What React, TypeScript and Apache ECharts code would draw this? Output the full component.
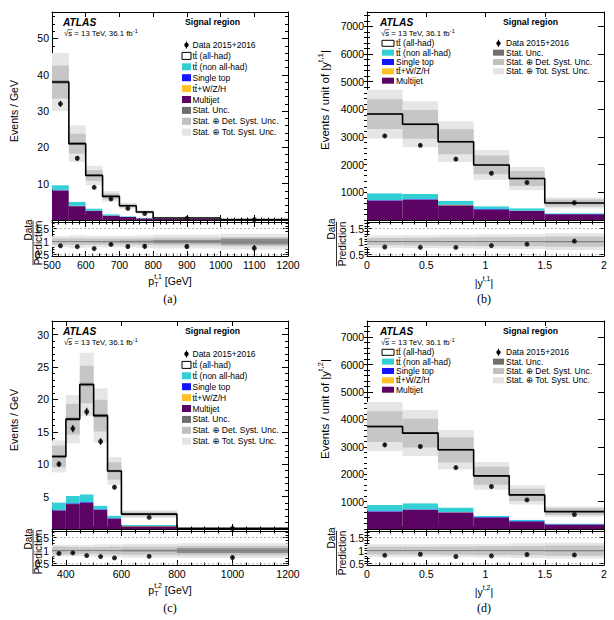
import React, { useEffect, useRef } from "react";
import * as echarts from "echarts";

const FONT = "'Liberation Sans', 'DejaVu Sans', Arial, sans-serif";
const SERIF = "'Liberation Serif', 'DejaVu Serif', serif";

// ---------- (a) leading top-jet pT ----------
const pt1Edges = [500, 550, 600, 650, 700, 750, 800, 1000, 1200];
const pt1AllHad = [28.4, 16.0, 9.1, 4.9, 2.9, 1.6, 0.25, 0.07];
const pt1NonAllHad = [1.3, 1.1, 0.6, 0.35, 0.2, 0.12, 0.05, 0.01];
const pt1SingleTop = [0.15, 0.1, 0.06, 0.04, 0.02, 0.01, 0.01, 0.002];
const pt1TtV = [0.05, 0.03, 0.02, 0.01, 0.01, 0.01, 0.005, 0.001];
const pt1Multijet = [8.1, 3.8, 2.5, 1.2, 0.8, 0.45, 0.25, 0.04];
const pt1Data = [32.0, 17.0, 9.0, 5.8, 3.2, 1.8, 0.46, 0.092];
const pt1DataErr = [0.8, 0.6, 0.45, 0.35, 0.25, 0.2, 0.05, 0.015];
const pt1StatUnc = [0.012, 0.015, 0.02, 0.025, 0.03, 0.04, 0.06, 0.11];
const pt1DetUnc = [0.12, 0.13, 0.12, 0.12, 0.12, 0.13, 0.15, 0.18];
const pt1TotUnc = [0.21, 0.24, 0.22, 0.22, 0.22, 0.24, 0.26, 0.3];
const pt1XTicks = [500, 600, 700, 800, 900, 1000, 1100, 1200];
const pt1YTicks = [10, 20, 30, 40, 50];

// ---------- (b) leading top-jet |y| ----------
const absY1Edges = [0, 0.3, 0.6, 0.9, 1.2, 1.5, 2.0];
const absY1AllHad = [2865, 2520, 2133, 1495, 1077, 372];
const absY1NonAllHad = [242, 180, 144, 98, 87, 25];
const absY1SingleTop = [15, 17, 12, 13, 11, 10];
const absY1TtV = [8, 8, 6, 4, 3, 2];
const absY1Multijet = [700, 735, 535, 380, 322, 205];
const absY1Data = [3040, 2700, 2200, 1690, 1355, 625];
const absY1DataErr = [55, 55, 50, 45, 40, 20];
const absY1StatUnc = [0.01, 0.01, 0.012, 0.015, 0.018, 0.025];
const absY1DetUnc = [0.14, 0.15, 0.16, 0.17, 0.18, 0.2];
const absY1TotUnc = [0.23, 0.24, 0.26, 0.27, 0.28, 0.32];

// ---------- (c) subleading top-jet pT ----------
const pt2Edges = [350, 400, 450, 500, 550, 600, 800, 1200];
const pt2AllHad = [7.1, 11.85, 16.95, 13.9, 6.9, 1.7, 0.08];
const pt2NonAllHad = [1.15, 1.13, 1.18, 0.55, 0.37, 0.14, 0.007];
const pt2SingleTop = [0.08, 0.1, 0.1, 0.08, 0.05, 0.015, 0.002];
const pt2TtV = [0.02, 0.02, 0.02, 0.02, 0.01, 0.005, 0.001];
const pt2Multijet = [2.85, 3.85, 4.05, 2.95, 1.62, 0.44, 0.02];
const pt2Data = [10.0, 15.5, 18.1, 13.5, 6.45, 1.8, 0.081];
const pt2DataErr = [0.45, 0.55, 0.6, 0.5, 0.35, 0.07, 0.007];
const pt2StatUnc = [0.02, 0.015, 0.012, 0.015, 0.02, 0.03, 0.09];
const pt2DetUnc = [0.15, 0.14, 0.13, 0.14, 0.15, 0.16, 0.18];
const pt2TotUnc = [0.22, 0.22, 0.22, 0.24, 0.24, 0.26, 0.28];
const pt2XTicks = [400, 600, 800, 1000, 1200];
const pt2YTicks = [5, 10, 15, 20, 25, 30];

// ---------- (d) subleading top-jet |y| ----------
const absY2Edges = [0, 0.3, 0.6, 0.9, 1.2, 1.5, 2.0];
const absY2AllHad = [2860, 2560, 2110, 1460, 911, 430];
const absY2NonAllHad = [224, 222, 157, 44, 46, 30];
const absY2SingleTop = [18, 20, 16, 12, 10, 8];
const absY2TtV = [8, 8, 7, 4, 3, 2];
const absY2Multijet = [630, 690, 600, 420, 275, 165];
const absY2Data = [3070, 3010, 2240, 1550, 1060, 530];
const absY2DataErr = [55, 55, 50, 40, 35, 20];
const absY2StatUnc = [0.01, 0.01, 0.012, 0.015, 0.018, 0.025];
const absY2DetUnc = [0.15, 0.15, 0.16, 0.17, 0.18, 0.2];
const absY2TotUnc = [0.24, 0.24, 0.25, 0.26, 0.28, 0.3];

const absYXTicks = [0, 0.5, 1, 1.5, 2];
const absYYTicks = [1000, 2000, 3000, 4000, 5000, 6000, 7000];
const ratioYTicks = [0.5, 1, 1.5];

const C = {
  multijet: "#5c0463",
  ttV: "#ffc125",
  singleTop: "#1414ff",
  nonAllHad: "#32cfd4",
  allHad: "#ffffff",
  stat: "#8c8c8c",
  det: "#c6c6c6",
  tot: "#e6e6e6",
};

type Rect = { left: number; top: number; width: number; height: number };
type Panel = {
  edges: number[];
  allHad: number[];
  nonAllHad: number[];
  singleTop: number[];
  ttV: number[];
  multijet: number[];
  data: number[];
  dataErr: number[];
  stat: number[];
  det: number[];
  tot: number[];
  xMin: number;
  xMax: number;
  xTicks: number[];
  xMinor: number;
  yMax: number;
  yTicks: number[];
  yMinor: number;
  main: Rect;
  ratio: Rect;
};

const panels: Panel[] = [
  {
    edges: pt1Edges, allHad: pt1AllHad, nonAllHad: pt1NonAllHad, singleTop: pt1SingleTop, ttV: pt1TtV,
    multijet: pt1Multijet, data: pt1Data, dataErr: pt1DataErr, stat: pt1StatUnc, det: pt1DetUnc, tot: pt1TotUnc,
    xMin: 500, xMax: 1200, xTicks: pt1XTicks, xMinor: 20, yMax: 57.3, yTicks: pt1YTicks, yMinor: 2,
    main: { left: 52, top: 12, width: 236, height: 208 },
    ratio: { left: 52, top: 222, width: 236, height: 34 },
  },
  {
    edges: absY1Edges, allHad: absY1AllHad, nonAllHad: absY1NonAllHad, singleTop: absY1SingleTop, ttV: absY1TtV,
    multijet: absY1Multijet, data: absY1Data, dataErr: absY1DataErr, stat: absY1StatUnc, det: absY1DetUnc, tot: absY1TotUnc,
    xMin: 0, xMax: 2, xTicks: absYXTicks, xMinor: 0.1, yMax: 7520, yTicks: absYYTicks, yMinor: 200,
    main: { left: 367, top: 12, width: 237, height: 208 },
    ratio: { left: 367, top: 222, width: 237, height: 34 },
  },
  {
    edges: pt2Edges, allHad: pt2AllHad, nonAllHad: pt2NonAllHad, singleTop: pt2SingleTop, ttV: pt2TtV,
    multijet: pt2Multijet, data: pt2Data, dataErr: pt2DataErr, stat: pt2StatUnc, det: pt2DetUnc, tot: pt2TotUnc,
    xMin: 350, xMax: 1200, xTicks: pt2XTicks, xMinor: 50, yMax: 32.1, yTicks: pt2YTicks, yMinor: 1,
    main: { left: 52, top: 321, width: 236, height: 208 },
    ratio: { left: 52, top: 531, width: 236, height: 34 },
  },
  {
    edges: absY2Edges, allHad: absY2AllHad, nonAllHad: absY2NonAllHad, singleTop: absY2SingleTop, ttV: absY2TtV,
    multijet: absY2Multijet, data: absY2Data, dataErr: absY2DataErr, stat: absY2StatUnc, det: absY2DetUnc, tot: absY2TotUnc,
    xMin: 0, xMax: 2, xTicks: absYXTicks, xMinor: 0.1, yMax: 7590, yTicks: absYYTicks, yMinor: 200,
    main: { left: 367, top: 321, width: 237, height: 208 },
    ratio: { left: 367, top: 531, width: 237, height: 34 },
  },
];

const RATIO_MIN = 0.45;
const RATIO_MAX = 1.75;

// ---------- text helpers ----------
let measureCtx: CanvasRenderingContext2D | null = null;
type Seg = {
  t: string;
  size: number;
  dy?: number;
  bold?: boolean;
  italic?: boolean;
  under?: boolean; // stacked under/over the previous segment (same x)
  bar?: "macron" | "root";
  family?: string;
};
function measure(s: Seg): number {
  if (!measureCtx) measureCtx = document.createElement("canvas").getContext("2d");
  const ctx = measureCtx as CanvasRenderingContext2D;
  ctx.font = `${s.italic ? "italic " : ""}${s.bold ? "bold " : ""}${s.size}px ${s.family ?? FONT}`;
  return ctx.measureText(s.t).width;
}
function richText(segs: Seg[], x: number, y: number, anchor: "left" | "center", rotation = 0): any {
  const kids: any[] = [];
  let cursor = 0;
  let prevX = 0;
  let prevW = 0;
  for (const s of segs) {
    const w = measure(s);
    let sx: number;
    if (s.under) {
      sx = prevX;
      cursor = prevX + Math.max(prevW, w);
    } else {
      sx = cursor;
      cursor += w;
    }
    const dy = s.dy ?? 0;
    kids.push({
      type: "text",
      x: sx,
      y: dy,
      style: {
        text: s.t,
        fontSize: s.size,
        fontFamily: s.family ?? FONT,
        fontWeight: s.bold ? "bold" : "normal",
        fontStyle: s.italic ? "italic" : "normal",
        fill: "#000",
        align: "left",
        verticalAlign: "middle",
        textAlign: "left",
        textVerticalAlign: "middle",
      },
    });
    if (s.bar === "macron") {
      kids.push({
        type: "line",
        shape: { x1: sx + w * 0.05, y1: dy - s.size * 0.47, x2: sx + w * 0.95, y2: dy - s.size * 0.47 },
        style: { stroke: "#000", lineWidth: 0.7 },
      });
    } else if (s.bar === "root") {
      kids.push({
        type: "line",
        shape: { x1: sx - 0.5, y1: dy - s.size * 0.5, x2: sx + w + 0.3, y2: dy - s.size * 0.5 },
        style: { stroke: "#000", lineWidth: 0.6 },
      });
    }
    prevX = sx;
    prevW = w;
  }
  const shift = anchor === "center" ? -cursor / 2 : 0;
  kids.forEach((k) => {
    if (k.type === "text") k.x += shift;
    else {
      k.shape.x1 += shift;
      k.shape.x2 += shift;
    }
  });
  return { type: "group", x, y, rotation, silent: true, children: kids };
}

const tt = (size: number, rest: string): Seg[] => [
  { t: "t", size },
  { t: "t", size, bar: "macron" },
  { t: rest, size },
];

// ---------- axis helpers ----------
function ticksBetween(min: number, max: number, step: number): number[] {
  const out: number[] = [];
  let k = Math.ceil(min / step - 1e-9);
  while (k * step <= max + 1e-9) {
    out.push(+(k * step).toFixed(6));
    k++;
  }
  return out;
}
const tickLine = { color: "#000", width: 1 };
function axisSet(
  kind: "x" | "y",
  g: number,
  min: number,
  max: number,
  majors: number[],
  minorStep: number,
  withLabels: boolean,
  majorLen: number,
  minorLen: number
): any[] {
  const minors = ticksBetween(min, max, minorStep);
  const sides = kind === "x" ? ["bottom", "top"] : ["left", "right"];
  const base = {
    type: "value",
    gridIndex: g,
    min,
    max,
    splitLine: { show: false },
    splitArea: { show: false },
    silent: true,
    axisPointer: { show: false },
  };
  const out: any[] = [];
  sides.forEach((pos, si) => {
    out.push({
      ...base,
      position: pos,
      axisLine: { show: true, onZero: false, lineStyle: tickLine },
      axisTick: { show: true, inside: true, length: majorLen, customValues: majors, lineStyle: tickLine },
      axisLabel:
        si === 0 && withLabels
          ? {
              show: true,
              customValues: majors,
              margin: 3,
              fontSize: 10.5,
              fontFamily: FONT,
              color: "#000",
              formatter: (v: number) => String(v),
            }
          : { show: false },
    });
    out.push({
      ...base,
      position: pos,
      axisLine: { show: false },
      axisTick: { show: true, inside: true, length: minorLen, customValues: minors, lineStyle: tickLine },
      axisLabel: { show: false },
    });
  });
  return out;
}

// ---------- series helpers ----------
function rectSeries(g: number, items: number[][], color: string, z: number): any {
  return {
    type: "custom",
    xAxisIndex: 4 * g,
    yAxisIndex: 4 * g,
    data: items,
    z,
    silent: true,
    renderItem: (_p: any, api: any) => {
      const a = api.coord([api.value(0), api.value(3)]);
      const b = api.coord([api.value(1), api.value(2)]);
      return {
        type: "rect",
        shape: { x: a[0], y: a[1], width: b[0] - a[0], height: b[1] - a[1] },
        style: { fill: color },
      };
    },
  };
}
function errorBarSeries(g: number, items: number[][], z: number): any {
  return {
    type: "custom",
    xAxisIndex: 4 * g,
    yAxisIndex: 4 * g,
    data: items,
    z,
    silent: true,
    renderItem: (_p: any, api: any) => {
      const a = api.coord([api.value(0), api.value(1)]);
      const b = api.coord([api.value(0), api.value(2)]);
      return {
        type: "line",
        shape: { x1: a[0], y1: a[1], x2: b[0], y2: b[1] },
        style: { stroke: "#000", lineWidth: 1.2 },
      };
    },
  };
}
function hLine(g: number, xMin: number, xMax: number, y: number, color: string, width: number, type: any, z: number): any {
  return {
    type: "line",
    xAxisIndex: 4 * g,
    yAxisIndex: 4 * g,
    data: [
      [xMin, y],
      [xMax, y],
    ],
    symbol: "none",
    silent: true,
    z,
    lineStyle: { color, width, type },
  };
}

function panelSeries(p: Panel, gMain: number, gRatio: number): any[] {
  const n = p.edges.length - 1;
  const out: any[] = [];
  const stackOrder = [
    { v: p.multijet, c: C.multijet },
    { v: p.ttV, c: C.ttV },
    { v: p.singleTop, c: C.singleTop },
    { v: p.nonAllHad, c: C.nonAllHad },
    { v: p.allHad, c: C.allHad },
  ];
  const total = new Array(n).fill(0);
  stackOrder.forEach((comp) => {
    const items: number[][] = [];
    for (let i = 0; i < n; i++) {
      items.push([p.edges[i], p.edges[i + 1], total[i], total[i] + comp.v[i]]);
      total[i] += comp.v[i];
    }
    out.push(rectSeries(gMain, items, comp.c, 2));
  });

  const bands: [number[], string][] = [
    [p.tot, C.tot],
    [p.det, C.det],
    [p.stat, C.stat],
  ];
  bands.forEach(([u, color], bi) => {
    const mainItems: number[][] = [];
    const ratioItems: number[][] = [];
    for (let i = 0; i < n; i++) {
      mainItems.push([p.edges[i], p.edges[i + 1], total[i] * (1 - u[i]), total[i] * (1 + u[i])]);
      ratioItems.push([p.edges[i], p.edges[i + 1], 1 - u[i], 1 + u[i]]);
    }
    out.push(rectSeries(gMain, mainItems, color, 3 + bi * 0.1));
    out.push(rectSeries(gRatio, ratioItems, color, 3 + bi * 0.1));
  });

  // prediction outline
  const step: number[][] = [];
  for (let i = 0; i < n; i++) step.push([p.edges[i], total[i]]);
  step.push([p.edges[n], total[n - 1]]);
  out.push({
    type: "line",
    xAxisIndex: 4 * gMain,
    yAxisIndex: 4 * gMain,
    data: step,
    step: "end",
    symbol: "none",
    silent: true,
    z: 5,
    lineStyle: { color: "#000", width: 1.6 },
  });

  // ratio reference lines
  out.push(hLine(gRatio, p.xMin, p.xMax, 1, "#808080", 1, "solid", 4));
  out.push(hLine(gRatio, p.xMin, p.xMax, 0.5, "#a0a0a0", 0.8, [2, 2], 4));
  out.push(hLine(gRatio, p.xMin, p.xMax, 1.5, "#a0a0a0", 0.8, [2, 2], 4));

  // data points
  const centers = p.edges.slice(0, n).map((e, i) => (e + p.edges[i + 1]) / 2);
  const ratio = p.data.map((d, i) => d / total[i]);
  const ratioErr = p.dataErr.map((e, i) => e / total[i]);
  out.push(errorBarSeries(gMain, centers.map((c, i) => [c, p.data[i] - p.dataErr[i], p.data[i] + p.dataErr[i]]), 7));
  out.push(errorBarSeries(gRatio, centers.map((c, i) => [c, ratio[i] - ratioErr[i], ratio[i] + ratioErr[i]]), 7));
  [
    [gMain, p.data],
    [gRatio, ratio],
  ].forEach(([g, vals]: any) => {
    out.push({
      type: "scatter",
      xAxisIndex: 4 * g,
      yAxisIndex: 4 * g,
      data: centers.map((c, i) => [c, vals[i]]),
      symbol: "circle",
      symbolSize: 5,
      silent: true,
      z: 8,
      itemStyle: { color: "#000" },
    });
  });
  return out;
}

// ---------- annotation helpers ----------
function box(x: number, yc: number, w: number, h: number, fill: string, stroke?: string): any {
  return {
    type: "rect",
    silent: true,
    shape: { x, y: yc - h / 2, width: w, height: h },
    style: { fill, stroke: stroke ?? fill, lineWidth: stroke ? 1 : 0 },
  };
}
function dataMarker(xc: number, yc: number): any[] {
  return [
    { type: "line", silent: true, shape: { x1: xc, y1: yc - 3.5, x2: xc, y2: yc + 3.5 }, style: { stroke: "#000", lineWidth: 1.1 } },
    { type: "circle", silent: true, shape: { cx: xc, cy: yc, r: 2.2 }, style: { fill: "#000" } },
  ];
}
const LS = 8.5;
const legendLabels: Record<string, Seg[]> = {
  data: [{ t: "Data 2015+2016", size: LS }],
  allHad: tt(LS, " (all-had)"),
  nonAllHad: tt(LS, " (non all-had)"),
  singleTop: [{ t: "Single top", size: LS }],
  ttV: tt(LS, "+W/Z/H"),
  multijet: [{ t: "Multijet", size: LS }],
  stat: [{ t: "Stat. Unc.", size: LS }],
  det: [{ t: "Stat. \u2295 Det. Syst. Unc.", size: LS }],
  tot: [{ t: "Stat. \u2295 Tot. Syst. Unc.", size: LS }],
};
const legendFill: Record<string, string> = {
  allHad: "#ffffff",
  nonAllHad: C.nonAllHad,
  singleTop: C.singleTop,
  ttV: C.ttV,
  multijet: C.multijet,
  stat: "#6e6e6e",
  det: "#c0c0c0",
  tot: "#e4e4e4",
};
function legendEntry(key: string, bx: number, yc: number, w: number, h: number, tx: number): any[] {
  const els: any[] = [];
  if (key === "data") els.push(...dataMarker(bx + w / 2, yc));
  else if (key === "allHad") els.push(box(bx, yc, w, h, "#ffffff", "#000"));
  else els.push(box(bx, yc, w, h, legendFill[key]));
  els.push(richText(legendLabels[key], tx, yc, "left"));
  return els;
}

function headerTexts(x: number, y: number, srX: number): any[] {
  return [
    richText([{ t: "ATLAS", size: 10.2, bold: true, italic: true }], x, y, "left"),
    richText([{ t: "Signal region", size: 8.7, bold: true }], srX, y, "left"),
    richText(
      [
        { t: "\u221A", size: 7.8 },
        { t: "s", size: 7.8, bar: "root" },
        { t: " = 13 TeV, 36.1 fb", size: 7.8 },
        { t: "-1", size: 5.5, dy: -3 },
      ],
      x + 1,
      y + 11.5,
      "left"
    ),
  ];
}

function ratioTitle(lineX: number, predY: number, dataY: number): any[] {
  const wp = measure({ t: "Prediction", size: 10 });
  return [
    richText([{ t: "Data", size: 10 }], lineX - 5, dataY, "center", Math.PI / 2),
    richText([{ t: "Prediction", size: 10 }], lineX + 5.5, predY, "center", Math.PI / 2),
    {
      type: "line",
      silent: true,
      shape: { x1: lineX, y1: predY - wp / 2, x2: lineX, y2: predY + wp / 2 },
      style: { stroke: "#000", lineWidth: 0.8 },
    },
  ];
}

function buildGraphics(): any[] {
  const g: any[] = [];
  // panels (a) and (c): single-column legend
  [0, 309].forEach((off, k) => {
    g.push(...headerTexts(63, 22 + off, 185));
    const keys = ["data", "allHad", "nonAllHad", "singleTop", "ttV", "multijet", "stat", "det", "tot"];
    keys.forEach((key, i) => g.push(...legendEntry(key, 182, 45 + off + i * 10.9, 9, 7, 192.5)));
    g.push(richText([{ t: "Events / GeV", size: 10.5 }], 14, 111 + off, "center", Math.PI / 2));
    g.push(...ratioTitle(33, 243 + off, 230 + off));
    const sub = k === 0 ? "t,1" : "t,2";
    g.push(
      richText(
        [
          { t: "p", size: 10.5 },
          { t: "T", size: 7, dy: 3.5 },
          { t: sub, size: 7, dy: -4.5, under: true },
          { t: " [GeV]", size: 10.5 },
        ],
        170,
        281 + off,
        "center"
      )
    );
    g.push(richText([{ t: k === 0 ? "(a)" : "(c)", size: 12, family: SERIF }], 170, 299 + off, "center"));
  });
  // panels (b) and (d): two-column legend
  [0, 309].forEach((off, k) => {
    g.push(...headerTexts(380, 22 + off, 503));
    ["allHad", "nonAllHad", "singleTop", "ttV", "multijet"].forEach((key, i) =>
      g.push(...legendEntry(key, 382, 43.3 + off + i * 9.35, 12, 6, 396))
    );
    ["data", "stat", "det", "tot"].forEach((key, i) => g.push(...legendEntry(key, 493, 43.3 + off + i * 9.35, 11, 6, 506)));
    const sub = k === 0 ? "t,1" : "t,2";
    g.push(
      richText(
        [
          { t: "Events / unit of |y", size: 11.5 },
          { t: sub, size: 8, dy: -5 },
          { t: "|", size: 11.5 },
        ],
        325,
        100 + off,
        "center",
        Math.PI / 2
      )
    );
    g.push(...ratioTitle(336.5, 244 + off, 229 + off));
    g.push(
      richText(
        [
          { t: "|y", size: 10.5 },
          { t: sub, size: 7, dy: -4.5 },
          { t: "|", size: 10.5 },
        ],
        484,
        283 + off,
        "center"
      )
    );
    g.push(richText([{ t: k === 0 ? "(b)" : "(d)", size: 12, family: SERIF }], 484, 299 + off, "center"));
  });
  return g;
}

function buildOption(): any {
  const grids: any[] = [];
  const xAxes: any[] = [];
  const yAxes: any[] = [];
  const series: any[] = [];
  panels.forEach((p, i) => {
    const gMain = 2 * i;
    const gRatio = 2 * i + 1;
    [p.main, p.ratio].forEach((r) =>
      grids.push({ ...r, containLabel: false, outerBoundsMode: "none", show: false })
    );
    xAxes.push(...axisSet("x", gMain, p.xMin, p.xMax, p.xTicks, p.xMinor, false, 5, 2.5));
    yAxes.push(...axisSet("y", gMain, 0, p.yMax, p.yTicks, p.yMinor, true, 6, 3));
    xAxes.push(...axisSet("x", gRatio, p.xMin, p.xMax, p.xTicks, p.xMinor, true, 5, 2.5));
    yAxes.push(...axisSet("y", gRatio, RATIO_MIN, RATIO_MAX, ratioYTicks, 0.1, true, 5, 2.5));
    series.push(...panelSeries(p, gMain, gRatio));
  });
  return {
    animation: false,
    backgroundColor: "#ffffff",
    grid: grids,
    xAxis: xAxes,
    yAxis: yAxes,
    series,
    graphic: { elements: buildGraphics() },
  };
}

export default function App() {
  const ref = useRef<HTMLDivElement>(null);
  useEffect(() => {
    if (!ref.current) return;
    const chart = echarts.init(ref.current, null, { renderer: "svg" });
    chart.setOption(buildOption());
    return () => chart.dispose();
  }, []);
  return (
    <div
      ref={ref}
      style={{ position: "absolute", left: 0, top: 0, width: 614, height: 620, background: "#fff" }}
    />
  );
}
